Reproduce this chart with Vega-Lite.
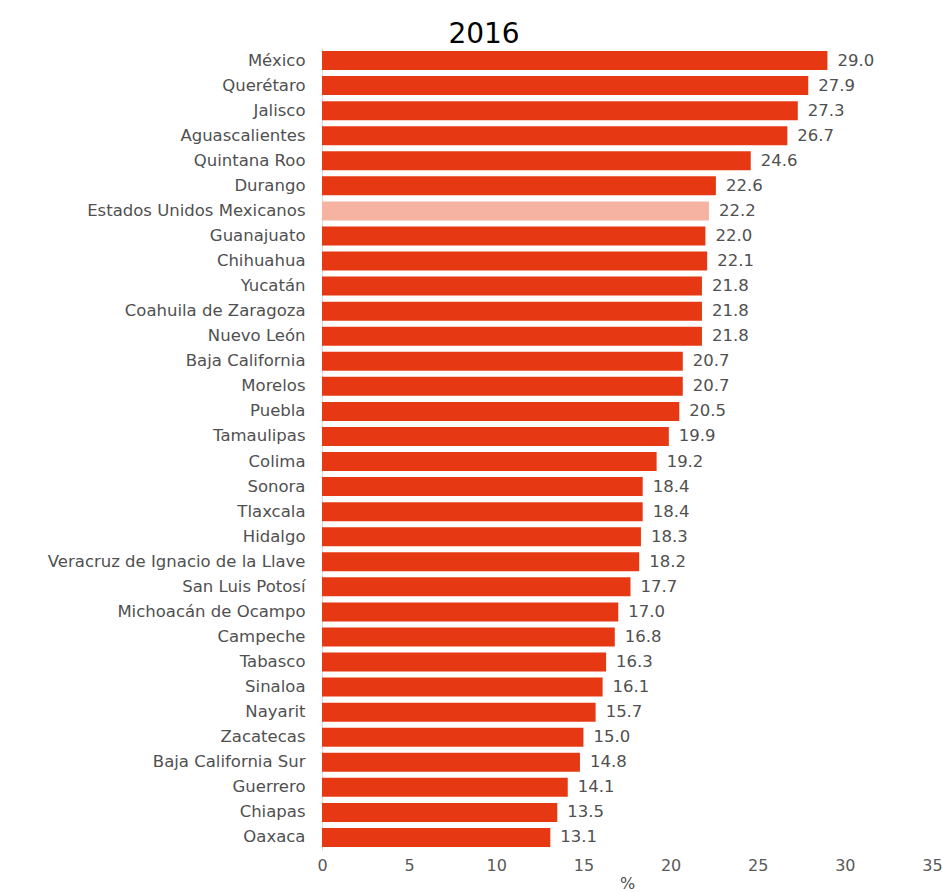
{
  "$schema": "https://vega.github.io/schema/vega-lite/v6.json",
  "width": 610,
  "height": 802,
  "autosize": {"type": "none"},
  "padding": {"left": 322, "top": 48, "right": 11, "bottom": 42},
  "background": "white",
  "title": {
    "text": "2016",
    "anchor": "middle",
    "frame": "group",
    "dx": -143,
    "dy": 34,
    "offset": 5,
    "baseline": "bottom",
    "font": "DejaVu Sans",
    "fontSize": 28,
    "fontWeight": "normal",
    "color": "#000000"
  },
  "config": {
    "view": {"stroke": null},
    "font": "DejaVu Sans"
  },
  "data": {
    "values": [
      {"estado": "México", "valor": 29.0, "tipo": "e"},
      {"estado": "Querétaro", "valor": 27.9, "tipo": "e"},
      {"estado": "Jalisco", "valor": 27.3, "tipo": "e"},
      {"estado": "Aguascalientes", "valor": 26.7, "tipo": "e"},
      {"estado": "Quintana Roo", "valor": 24.6, "tipo": "e"},
      {"estado": "Durango", "valor": 22.6, "tipo": "e"},
      {"estado": "Estados Unidos Mexicanos", "valor": 22.2, "tipo": "n"},
      {"estado": "Guanajuato", "valor": 22.0, "tipo": "e"},
      {"estado": "Chihuahua", "valor": 22.1, "tipo": "e"},
      {"estado": "Yucatán", "valor": 21.8, "tipo": "e"},
      {"estado": "Coahuila de Zaragoza", "valor": 21.8, "tipo": "e"},
      {"estado": "Nuevo León", "valor": 21.8, "tipo": "e"},
      {"estado": "Baja California", "valor": 20.7, "tipo": "e"},
      {"estado": "Morelos", "valor": 20.7, "tipo": "e"},
      {"estado": "Puebla", "valor": 20.5, "tipo": "e"},
      {"estado": "Tamaulipas", "valor": 19.9, "tipo": "e"},
      {"estado": "Colima", "valor": 19.2, "tipo": "e"},
      {"estado": "Sonora", "valor": 18.4, "tipo": "e"},
      {"estado": "Tlaxcala", "valor": 18.4, "tipo": "e"},
      {"estado": "Hidalgo", "valor": 18.3, "tipo": "e"},
      {"estado": "Veracruz de Ignacio de la Llave", "valor": 18.2, "tipo": "e"},
      {"estado": "San Luis Potosí", "valor": 17.7, "tipo": "e"},
      {"estado": "Michoacán de Ocampo", "valor": 17.0, "tipo": "e"},
      {"estado": "Campeche", "valor": 16.8, "tipo": "e"},
      {"estado": "Tabasco", "valor": 16.3, "tipo": "e"},
      {"estado": "Sinaloa", "valor": 16.1, "tipo": "e"},
      {"estado": "Nayarit", "valor": 15.7, "tipo": "e"},
      {"estado": "Zacatecas", "valor": 15.0, "tipo": "e"},
      {"estado": "Baja California Sur", "valor": 14.8, "tipo": "e"},
      {"estado": "Guerrero", "valor": 14.1, "tipo": "e"},
      {"estado": "Chiapas", "valor": 13.5, "tipo": "e"},
      {"estado": "Oaxaca", "valor": 13.1, "tipo": "e"}
    ]
  },
  "encoding": {
    "y": {
      "field": "estado",
      "type": "nominal",
      "sort": null,
      "scale": {"paddingInner": 0.24, "paddingOuter": 0.12},
      "axis": {
        "title": null,
        "ticks": false,
        "domain": true,
        "domainColor": "#d9d9d9",
        "labelPadding": 17,
        "labelFont": "DejaVu Sans",
        "labelFontSize": 16.5,
        "labelColor": "#505050",
        "labelLimit": 400
      }
    },
    "x": {
      "field": "valor",
      "type": "quantitative",
      "scale": {"domain": [0, 35], "nice": false},
      "axis": {
        "title": "%",
        "titleFont": "DejaVu Sans",
        "titleFontSize": 16,
        "titleFontWeight": "normal",
        "titleColor": "#505050",
        "titlePadding": 2,
        "values": [0, 5, 10, 15, 20, 25, 30, 35],
        "grid": false,
        "domain": false,
        "ticks": false,
        "labelPadding": 7,
        "labelFont": "DejaVu Sans",
        "labelFontSize": 16,
        "labelColor": "#595959",
        "labelFlush": false
      }
    }
  },
  "layer": [
    {
      "mark": {"type": "bar"},
      "encoding": {
        "color": {
          "field": "tipo",
          "type": "nominal",
          "scale": {"domain": ["e", "n"], "range": ["#E63812", "#F6B3A2"]},
          "legend": null
        }
      }
    },
    {
      "mark": {
        "type": "text",
        "align": "left",
        "dx": 10,
        "font": "DejaVu Sans",
        "fontSize": 16.5,
        "color": "#505050"
      },
      "encoding": {
        "text": {"field": "valor", "type": "quantitative", "format": ".1f"}
      }
    }
  ]
}
